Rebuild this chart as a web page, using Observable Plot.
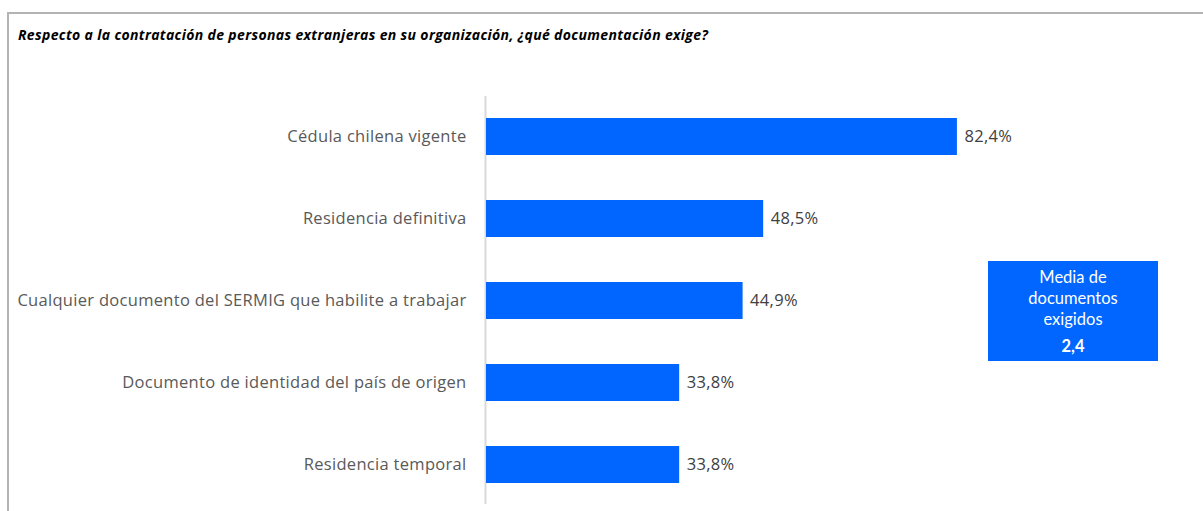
<!DOCTYPE html>
<html>
<head>
<meta charset="utf-8">
<script src="https://cdn.jsdelivr.net/npm/d3@7"></script>
<script src="https://cdn.jsdelivr.net/npm/@observablehq/plot@0.6"></script>
<style>
  html, body { margin: 0; padding: 0; background: #fff; }
  #wrap { position: relative; width: 1203px; height: 511px; overflow: hidden; font-family: Lato, "Open Sans", sans-serif; }
  #frameTop { position: absolute; left: 7px; top: 12px; width: 1196px; height: 2px; background: #b4b4b4; }
  #frameLeft { position: absolute; left: 7px; top: 12px; width: 2px; height: 499px; background: #b4b4b4; }
  #subtitle { position: absolute; left: 18px; top: 25px; font-family: "Open Sans", sans-serif; font-size: 14px; letter-spacing: 0.35px; font-weight: bold; font-style: italic; color: #000; white-space: nowrap; }
  #box { position: absolute; left: 988px; top: 261px; width: 170px; height: 100px; background: #0066ff; color: #fff; text-align: center; font-family: Lato, sans-serif; font-size: 16.5px; line-height: 21px; box-sizing: border-box; padding-top: 6px; }
  #box .val { font-weight: bold; margin-top: 6px; }
  #chart { position: absolute; left: 0; top: 0; }
  #chart svg text { letter-spacing: 0.3px; }
</style>
</head>
<body>
<div id="wrap">
  <div id="chart"></div>
  <div id="frameTop"></div>
  <div id="frameLeft"></div>
  <div id="subtitle"></div>
  <div id="box"></div>
</div>
<script>
const subtitle = "Respecto a la contratación de personas extranjeras en su organización, ¿qué documentación exige?";
const categories = [
  "Cédula chilena vigente",
  "Residencia definitiva",
  "Cualquier documento del SERMIG que habilite a trabajar",
  "Documento de identidad del país de origen",
  "Residencia temporal"
];
const values = [82.4, 48.5, 44.9, 33.8, 33.8];
const boxLines = ["Media de", "documentos", "exigidos"];
const boxValue = 2.4;

const fmt = v => v.toFixed(1).replace(".", ",");
const data = categories.map((c, i) => ({category: c, value: values[i]}));

document.getElementById("subtitle").textContent = subtitle;
const box = document.getElementById("box");
boxLines.forEach(t => { const d = document.createElement("div"); d.textContent = t; box.appendChild(d); });
const vd = document.createElement("div"); vd.className = "val"; vd.textContent = fmt(boxValue); box.appendChild(vd);

const chart = Plot.plot({
  width: 1203,
  height: 511,
  marginTop: 0, marginBottom: 0, marginLeft: 0, marginRight: 0,
  style: {fontFamily: "'Open Sans', sans-serif", background: "transparent", overflow: "visible"},
  x: {domain: [0, 100], range: [486, 1057.5], axis: null},
  y: {domain: categories, range: [95.4, 505.4], paddingInner: 0.543, paddingOuter: 0.2685, axis: null},
  marks: [
    Plot.ruleX([0], {x: d => d, stroke: "#d9d9d9", strokeWidth: 2, dx: -1, insetTop: 96, insetBottom: 7}),
    Plot.barX(data, {x: "value", y: "category", fill: "#0066ff"}),
    Plot.text(data, {x: 0, y: "category", text: "category", textAnchor: "end", dx: -20, fill: "#595959", fontSize: 16.5}),
    Plot.text(data, {x: "value", y: "category", text: d => fmt(d.value) + "%", textAnchor: "start", dx: 7, fill: "#404040", fontSize: 16.5})
  ]
});
document.getElementById("chart").appendChild(chart);
</script>
</body>
</html>
